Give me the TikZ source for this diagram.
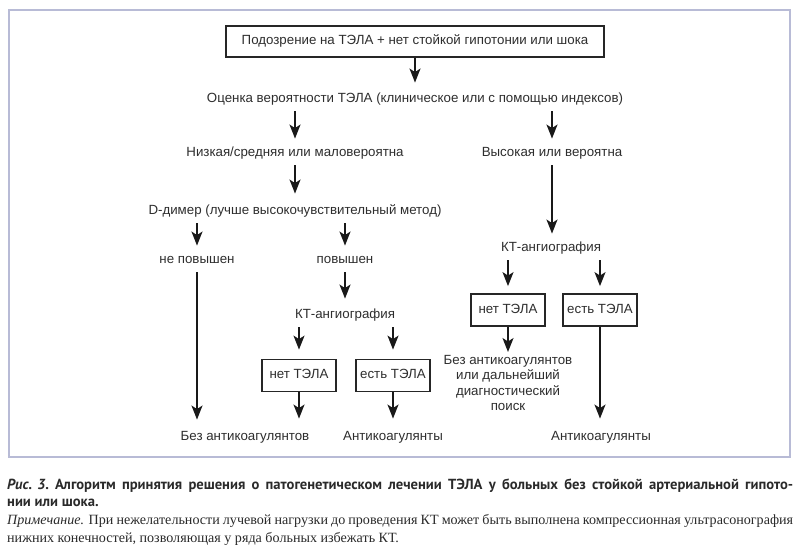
\documentclass[tikz,border=0pt]{standalone}
\usepackage{fontspec}
\setmainfont{Liberation Serif}
\newfontfamily\diagf{Liberation Sans}
\newfontfamily\capf{PT Sans}
\usetikzlibrary{arrows.meta}
\definecolor{framec}{HTML}{B8BBD6}
\definecolor{textc}{HTML}{2E2E2E}
\definecolor{capc}{HTML}{2A2A2A}
\tikzset{
  txt/.style={font=\diagf\fontsize{13.3}{15.5}\selectfont, text=textc, inner xsep=2pt, inner ysep=6pt, text height=9.5pt, text depth=3pt},
  mtxt/.style={font=\diagf\fontsize{13.3}{15.5}\selectfont, text=textc, inner xsep=2pt, inner ysep=2pt, align=center},
  bx/.style={txt, draw=black!85, line width=1.8pt, minimum width=74pt, minimum height=32pt},
  topbx/.style={txt, draw=black!85, line width=1.8pt, minimum width=378pt, minimum height=31pt},
  arr/.style={draw=black!90, line width=1.5pt, -{Stealth[length=14pt,width=11pt,inset=3.5pt]}, shorten >=2pt},
}
\begin{document}
\begin{tikzpicture}[x=1pt,y=-1pt]
\useasboundingbox (0,0) rectangle (800,552);
\fill[white] (0,0) rectangle (800,552);
\draw[framec, line width=2.5pt] (9,10) rectangle (790,457);

% nodes
\node[topbx] (top) at (415,41.5) {Подозрение на ТЭЛА + нет стойкой гипотонии или шока};
\node[txt] (ocenka) at (415,99) {Оценка вероятности ТЭЛА (клиническое или с помощью индексов)};
\node[txt] (nizk) at (295,153) {Низкая/средняя или маловероятна};
\node[txt] (vys) at (552,153) {Высокая или вероятна};
\node[txt] (ddim) at (295,211) {D-димер (лучше высокочувствительный метод)};
\node[txt] (nepov) at (197,260) {не повышен};
\node[txt] (pov) at (345,260) {повышен};
\node[txt] (kt1) at (345,315) {КТ-ангиография};
\node[bx] (net1) at (299,375.5) {нет ТЭЛА};
\node[bx] (est1) at (393,375.5) {есть ТЭЛА};
\node[txt] (bez1) at (245,437) {Без антикоагулянтов};
\node[txt] (anti1) at (393,437) {Антикоагулянты};
\node[txt] (kt2) at (551,248) {КТ-ангиография};
\node[bx] (net2) at (508,310) {нет ТЭЛА};
\node[bx] (est2) at (600,310) {есть ТЭЛА};
\node[mtxt, anchor=north] (bez2) at (508,353) {Без антикоагулянтов\\или дальнейший\\диагностический\\поиск};
\node[txt] (anti2) at (601,437) {Антикоагулянты};

% connectors
\draw[arr, shorten >=4pt] (top.south) -- (ocenka.north);
\draw[arr] (ocenka.south -| nizk) -- (nizk.north);
\draw[arr] (ocenka.south -| vys) -- (vys.north);
\draw[arr, shorten >=5pt] (nizk.south) -- (ddim.north);
\draw[arr] (vys.south) -- (vys.south |- kt2.north);
\draw[arr] (ddim.south -| nepov) -- (nepov.north);
\draw[arr] (ddim.south -| pov) -- (pov.north);
\draw[arr, shorten >=5pt] (nepov.south) -- (nepov.south |- bez1.north);
\draw[arr, shorten >=4pt] (pov.south) -- (kt1.north);
\draw[arr, shorten >=9pt] (kt1.south -| net1) -- (net1.north);
\draw[arr, shorten >=9pt] (kt1.south -| est1) -- (est1.north);
\draw[arr, shorten >=6pt] (net1.south) -- (net1.south |- bez1.north);
\draw[arr, shorten >=6pt] (est1.south) -- (anti1.north);
\draw[arr, shorten >=7pt] (kt2.south -| net2) -- (net2.north);
\draw[arr, shorten >=7pt] (kt2.south -| est2) -- (est2.north);
\draw[arr, shorten >=1pt] (net2.south) -- (bez2.north);
\draw[arr, shorten >=6pt] (est2.south) -- (est2.south |- anti2.north);

% caption
\node[anchor=base west, inner sep=0pt, text=capc, font=\capf\bfseries\fontsize{14.6}{16}\selectfont] (cap1) at (7,489)
  {\makebox[786pt][s]{\mbox{\textit{Рис. 3}.} Алгоритм принятия решения о патогенетическом лечении ТЭЛА у больных без стойкой артериальной гипото-}};
\node[anchor=base west, inner sep=0pt, text=capc, font=\capf\bfseries\fontsize{14.6}{16}\selectfont] (cap2) at (7,506)
  {нии или шока.};
\node[anchor=base west, inner sep=0pt, text=capc, font=\fontsize{14.1}{16}\selectfont] (note1) at (7,524)
  {\makebox[786pt][s]{\textit{Примечание.} При нежелательности лучевой нагрузки до проведения КТ может быть выполнена компрессионная ультрасонография}};
\node[anchor=base west, inner sep=0pt, text=capc, font=\fontsize{14.1}{16}\selectfont] (note2) at (7,542)
  {нижних конечностей, позволяющая у ряда больных избежать КТ.};
\end{tikzpicture}
\end{document}
